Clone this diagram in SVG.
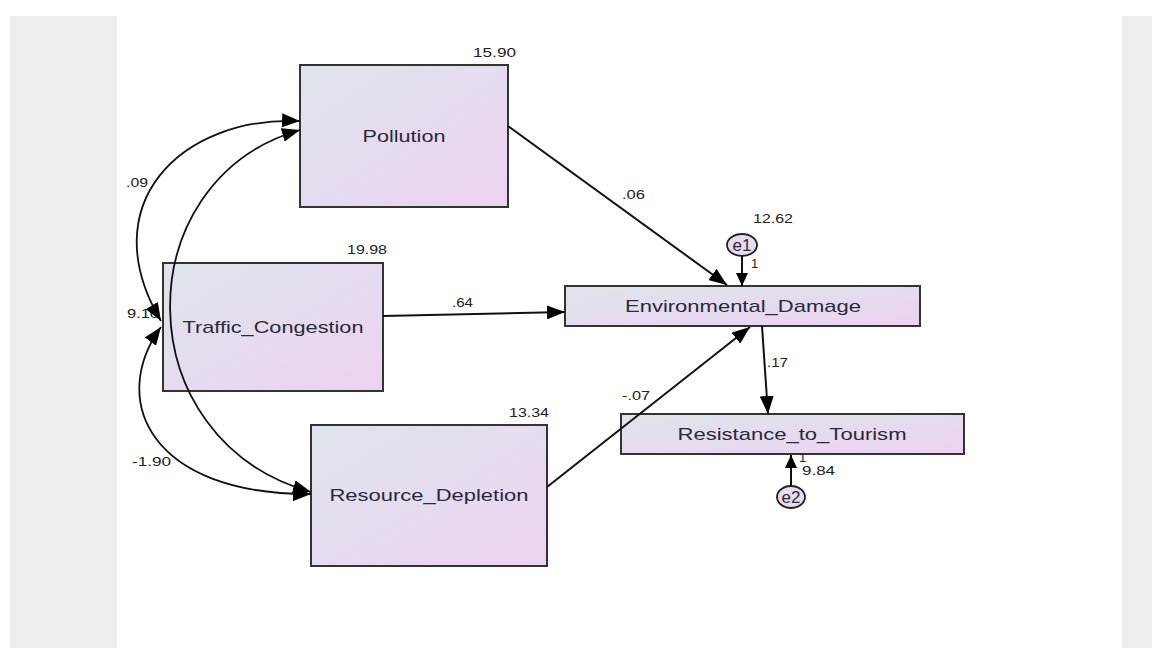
<svg xmlns="http://www.w3.org/2000/svg" width="1152" height="648" viewBox="0 0 1152 648">
<defs>
<linearGradient id="g" x1="0" y1="0" x2="1" y2="1">
<stop offset="0" stop-color="#dfe4ec"/>
<stop offset="1" stop-color="#ecd3f0"/>
</linearGradient>
<marker id="ah" markerUnits="userSpaceOnUse" markerWidth="19" markerHeight="14" refX="18" refY="7" orient="auto-start-reverse">
<path d="M0,0 L18,7 L0,14 z" fill="#000"/>
</marker>
<marker id="ahs" markerUnits="userSpaceOnUse" markerWidth="14" markerHeight="12" refX="13" refY="6" orient="auto-start-reverse">
<path d="M0,0 L13,6 L0,12 z" fill="#000"/>
</marker>
</defs>
<style>
.box{fill:url(#g);stroke:#333;stroke-width:2}
.lbl{font-family:"Liberation Sans",Arial,sans-serif;font-size:17px;fill:#2a2a3a;text-anchor:middle}
.num{font-family:"Liberation Sans",Arial,sans-serif;font-size:13px;fill:#222}
.con{fill:none;stroke:#111;stroke-width:2}
.cov{fill:none;stroke:#111;stroke-width:1.8;marker-start:url(#ah);marker-end:url(#ah)}
.err{fill:#e6dcee;stroke:#222;stroke-width:1.8}
</style>
<rect width="1152" height="648" fill="#fff"/>
<rect x="10" y="16" width="107" height="632" fill="#eeeeee"/>
<rect x="1122" y="16" width="30" height="632" fill="#eeeeee"/>

<g id="pollution">
<rect class="box" x="300" y="65" width="208" height="142"/>
<text class="lbl" x="404" y="142" textLength="83" lengthAdjust="spacingAndGlyphs">Pollution</text>
<text class="num" x="473" y="57" textLength="43" lengthAdjust="spacingAndGlyphs">15.90</text>
</g>
<g id="traffic_congestion">
<rect class="box" x="163" y="263" width="220" height="128"/>
<text class="lbl" x="273" y="333" textLength="181" lengthAdjust="spacingAndGlyphs">Traffic_Congestion</text>
<text class="num" x="347" y="254" textLength="40" lengthAdjust="spacingAndGlyphs">19.98</text>
</g>
<g id="resource_depletion">
<rect class="box" x="311" y="425" width="236" height="141"/>
<text class="lbl" x="429" y="501" textLength="199" lengthAdjust="spacingAndGlyphs">Resource_Depletion</text>
<text class="num" x="509" y="417" textLength="40" lengthAdjust="spacingAndGlyphs">13.34</text>
</g>
<g id="environmental_damage">
<rect class="box" x="565" y="286" width="355" height="40"/>
<text class="lbl" x="743" y="312" textLength="236" lengthAdjust="spacingAndGlyphs">Environmental_Damage</text>
</g>
<g id="resistance_to_tourism">
<rect class="box" x="621" y="414" width="343" height="40"/>
<text class="lbl" x="792" y="440" textLength="229" lengthAdjust="spacingAndGlyphs">Resistance_to_Tourism</text>
</g>
<g id="e1">
<ellipse class="err" cx="742" cy="245" rx="15" ry="11"/>
<text class="lbl" x="742" y="251" font-size="15">e1</text>
<text class="num" x="753" y="223" textLength="40" lengthAdjust="spacingAndGlyphs">12.62</text>
</g>
<g id="e2">
<ellipse class="err" cx="791" cy="497" rx="14" ry="11"/>
<text class="lbl" x="791" y="503" font-size="15">e2</text>
<text class="num" x="802" y="475" textLength="33" lengthAdjust="spacingAndGlyphs">9.84</text>
</g>

<g id="connectors">
<text class="num" x="126" y="187" textLength="22" lengthAdjust="spacingAndGlyphs">.09</text>
<text class="num" x="127" y="318" textLength="32" lengthAdjust="spacingAndGlyphs">9.10</text>
<text class="num" x="132" y="466" textLength="39" lengthAdjust="spacingAndGlyphs">-1.90</text>
<path class="cov" d="M300,121 C180,116 92,205 161,321"/>
<path class="cov" d="M300,130 C125,180 125,440 311,492"/>
<path class="cov" d="M161,327 C108,400 150,495 311,494"/>
<line class="con" x1="508" y1="126" x2="727" y2="285" marker-end="url(#ah)"/>
<line class="con" x1="383" y1="316" x2="565" y2="312" marker-end="url(#ah)"/>
<line class="con" x1="547" y1="487" x2="750" y2="327" marker-end="url(#ah)"/>
<line class="con" x1="762" y1="326" x2="768" y2="414" marker-end="url(#ah)"/>
<line class="con" x1="742" y1="256" x2="742" y2="286" marker-end="url(#ahs)"/>
<line class="con" x1="791" y1="486" x2="791" y2="455" marker-end="url(#ahs)"/>
<text class="num" x="622" y="199" textLength="23" lengthAdjust="spacingAndGlyphs">.06</text>
<text class="num" x="452" y="307" textLength="21" lengthAdjust="spacingAndGlyphs">.64</text>
<text class="num" x="622" y="400" textLength="28" lengthAdjust="spacingAndGlyphs">-.07</text>
<text class="num" x="767" y="367" textLength="21" lengthAdjust="spacingAndGlyphs">.17</text>
<text class="num" x="751" y="268" font-size="10">1</text>
<text class="num" x="799" y="462" font-size="10">1</text>
</g>
</svg>
